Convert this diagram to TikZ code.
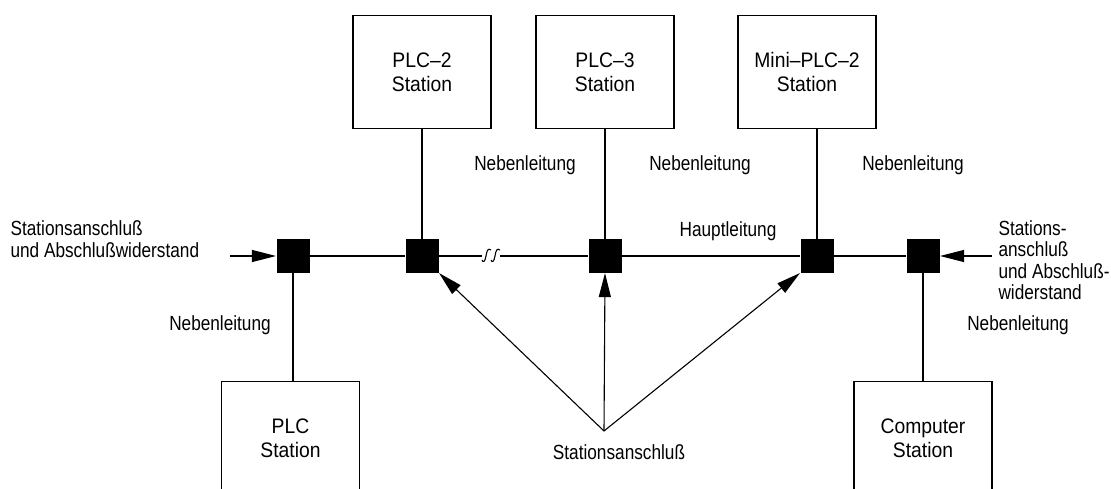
\documentclass[tikz,border=0pt]{standalone}
\usepackage{fontspec}
\setmainfont{Liberation Sans}[FakeStretch=0.84]
\newfontfamily\boxfont{Liberation Sans}[FakeStretch=0.92]
\usetikzlibrary{arrows.meta}

\begin{document}
\begin{tikzpicture}[x=1pt, y=1pt, line width=1.1pt,
          every node/.style = {inner sep=0pt, align=left, font=\fontsize{20.5}{21.5}\selectfont},
          station/.style = {shape=rectangle, draw, minimum width=138pt, minimum height=113pt, align=center, font=\boxfont\fontsize{21}{24}\selectfont},
          hub/.style = {shape=rectangle, fill=black, minimum size=33pt},
          feed/.style = {-{Triangle[length=24pt, width=12pt]}}]
  \useasboundingbox (0,0) rectangle (1111,488);
  % Stationen
  \node[station] (plcii) at (422,416) {PLC–2\\Station};
  \node[station] (plciii) at (605,416) {PLC–3\\Station};
  \node[station] (miniplc) at (807,416) {Mini–PLC–2\\Station};
  \node[station] (plc) at (290.5,50) {PLC\\Station};
  \node[station] (computer) at (923,50) {Computer\\Station};
  % Stationsanschluesse
  \node[hub] (hubA) at (293,232) {};
  \node[hub] (hubB) at (422,232) {};
  \node[hub] (hubC) at (605,232) {};
  \node[hub] (hubD) at (817,232) {};
  \node[hub] (hubE) at (923,232) {};
  \coordinate (brkL) at (482,232);
  \coordinate (brkR) at (500,232);
  \coordinate (inA) at (230,232);
  \coordinate (inE) at (992,232);
  \coordinate (apex) at (604,57);
  % Hauptleitung
  \draw (hubA.east) -- (hubB.west);
  \draw (hubB.east) -- (brkL);
  \draw (brkL) ++(0,-4) .. controls (483,-7+232) and (485,-6+232) .. (486,232) .. controls (487,6+232) and (488,8+232) .. (491,6+232);
  \draw (brkL) ++(9,-4) .. controls (492,-7+232) and (494,-6+232) .. (495,232) .. controls (496,6+232) and (497,8+232) .. (500,6+232);
  \draw (brkR) -- (hubC.west);
  \draw (hubC.east) -- (hubD.west);
  \draw (hubD.east) -- (hubE.west);
  % Nebenleitungen
  \draw (hubB) -- (hubB |- plcii.south);
  \draw (hubC) -- (plciii.south);
  \draw (hubD) -- (hubD |- miniplc.south);
  \draw (hubA) -- (hubA |- plc.north);
  \draw (hubE) -- (computer.north);
  % Pfeile
  \draw[feed] (inA) -- (hubA.west);
  \draw[feed] (inE) -- (hubE.east);
  \draw[feed] (apex) -- (hubB.south east);
  \draw[feed] (apex) -- (hubC.south);
  \draw[feed] (apex) -- (hubD.south west);
  % Beschriftung
  \node (nbB) at (525,323) {Nebenleitung};
  \node (nbC) at (700,323) {Nebenleitung};
  \node (nbD) at (913,323) {Nebenleitung};
  \node (nbA) at (220,163) {Nebenleitung};
  \node (nbE) at (1018,163) {Nebenleitung};
  \node (haupt) at (728,257) {Hauptleitung};
  \node[anchor=west] (endA) at (10,249) {Stationsanschlu\ss\\und Abschlu\ss widerstand};
  \node[anchor=west] (endE) at (998,228) {Stations-\\anschlu\ss\\und Abschlu\ss-\\widerstand};
  \node (anschl) at (619,36) {Stationsanschlu\ss};
\end{tikzpicture}
\end{document}
